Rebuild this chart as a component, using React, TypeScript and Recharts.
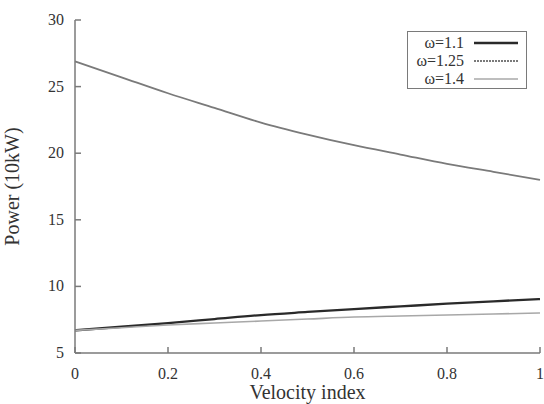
import { Legend, Line, LineChart, XAxis, YAxis } from "recharts";

const velocity = [0, 0.1, 0.2, 0.3, 0.4, 0.5, 0.6, 0.7, 0.8, 0.9, 1];
const omega11 = [6.7, 6.97, 7.25, 7.55, 7.85, 8.08, 8.3, 8.5, 8.7, 8.88, 9.05];
const omega125 = [26.9, 25.7, 24.5, 23.4, 22.3, 21.4, 20.6, 19.9, 19.2, 18.6, 18.0];
const omega14 = [6.7, 6.9, 7.1, 7.25, 7.4, 7.55, 7.7, 7.78, 7.85, 7.93, 8.0];
const xTicks = [0, 0.2, 0.4, 0.6, 0.8, 1];
const yTicks = [5, 10, 15, 20, 25, 30];

// legend sample for w125 is dashed, the curve itself reads as solid in the scan
const SERIES = [
  { key: "w11", name: "ω=1.1", color: "#2a2a2a", width: 2.3, dashed: false },
  { key: "w125", name: "ω=1.25", color: "#7a7a7a", width: 1.8, dashed: true },
  { key: "w14", name: "ω=1.4", color: "#a8a8a8", width: 1.6, dashed: false },
];

const data = velocity.map((v, i) => ({
  v,
  w11: omega11[i],
  w125: omega125[i],
  w14: omega14[i],
}));

const FONT = "Liberation Serif, Times New Roman, serif";
const AXIS = "#7a7a7a";
const INK = "#333";

function LeftTick({ x, y, payload }: any) {
  return (
    <g>
      <line x1={x + 10} x2={x + 16} y1={y} y2={y} stroke={AXIS} strokeWidth={1.5} />
      <text x={x - 1} y={y} dy={5} textAnchor="end" fontFamily={FONT} fontSize={16} fill={INK}>
        {payload.value}
      </text>
    </g>
  );
}

function RightTick({ x, y }: any) {
  return <line x1={x - 2} x2={x - 8} y1={y} y2={y} stroke={AXIS} strokeWidth={1.5} />;
}

function BottomTick({ x, y, payload }: any) {
  return (
    <g>
      <line x1={x} x2={x} y1={y - 12} y2={y - 18} stroke={AXIS} strokeWidth={1.5} />
      <text x={x} y={y} dy={14} textAnchor="middle" fontFamily={FONT} fontSize={16} fill={INK}>
        {payload.value}
      </text>
    </g>
  );
}

function TopTick({ x, y }: any) {
  return <line x1={x} x2={x} y1={y + 2} y2={y + 8} stroke={AXIS} strokeWidth={1.5} />;
}

function LegendBox() {
  return (
    <div
      style={{
        border: `1.5px solid ${AXIS}`,
        width: 120,
        height: 58,
        boxSizing: "border-box",
        padding: "2px 0",
        fontFamily: FONT,
        fontSize: 16,
        color: INK,
        background: "#fff",
      }}
    >
      {SERIES.map((s) => (
        <div key={s.key} style={{ display: "flex", alignItems: "center", height: 18 }}>
          <span style={{ width: 56, textAlign: "right" }}>{s.name}</span>
          <svg width={44} height={10} style={{ marginLeft: 10 }}>
            <line
              x1={0}
              x2={44}
              y1={5}
              y2={5}
              stroke={s.color}
              strokeWidth={s.width}
              strokeDasharray={s.dashed ? "2 1" : undefined}
            />
          </svg>
        </div>
      ))}
    </div>
  );
}

export default function App() {
  return (
    <div style={{ width: 544, height: 404, position: "relative", background: "#fff" }}>
      <style>{"body{margin:0}"}</style>
      <LineChart
        width={544}
        height={404}
        data={data}
        margin={{ top: 20, right: 4, bottom: 0, left: 0 }}
      >
        <XAxis
          dataKey="v"
          type="number"
          domain={[0, 1]}
          ticks={xTicks}
          tickLine={false}
          tickSize={12}
          tickMargin={0}
          stroke={AXIS}
          strokeWidth={1.5}
          tick={<BottomTick />}
          height={51}
          label={{
            value: "Velocity index",
            position: "insideBottom",
            offset: 5,
            style: { fontFamily: FONT, fontSize: 20, fill: INK },
          }}
        />
        <XAxis
          xAxisId="t"
          orientation="top"
          dataKey="v"
          type="number"
          domain={[0, 1]}
          ticks={xTicks}
          tickLine={false}
          tickSize={0}
          tickMargin={0}
          stroke={AXIS}
          strokeWidth={1.5}
          tick={<TopTick />}
          height={0}
        />
        <YAxis
          type="number"
          domain={[5, 30]}
          ticks={yTicks}
          tickLine={false}
          tickSize={10}
          tickMargin={0}
          stroke={AXIS}
          strokeWidth={1.5}
          tick={<LeftTick />}
          width={75}
          label={{
            value: "Power (10kW)",
            angle: -90,
            position: "insideLeft",
            offset: 12,
            style: { fontFamily: FONT, fontSize: 20, fill: INK, textAnchor: "middle" },
          }}
        />
        <YAxis
          yAxisId="r"
          orientation="right"
          type="number"
          domain={[5, 30]}
          ticks={yTicks}
          tickLine={false}
          tickSize={0}
          tickMargin={0}
          stroke={AXIS}
          strokeWidth={1.5}
          tick={<RightTick />}
          width={0}
        />
        <Legend
          layout="horizontal"
          verticalAlign="middle"
          wrapperStyle={{ position: "absolute", top: 31, left: 407, width: 120 }}
          content={() => <LegendBox />}
        />
        {SERIES.map((s) => (
          <Line
            key={s.key}
            dataKey={s.key}
            name={s.name}
            type="monotone"
            stroke={s.color}
            strokeWidth={s.width}
            dot={false}
            isAnimationActive={false}
          />
        ))}
      </LineChart>
    </div>
  );
}
